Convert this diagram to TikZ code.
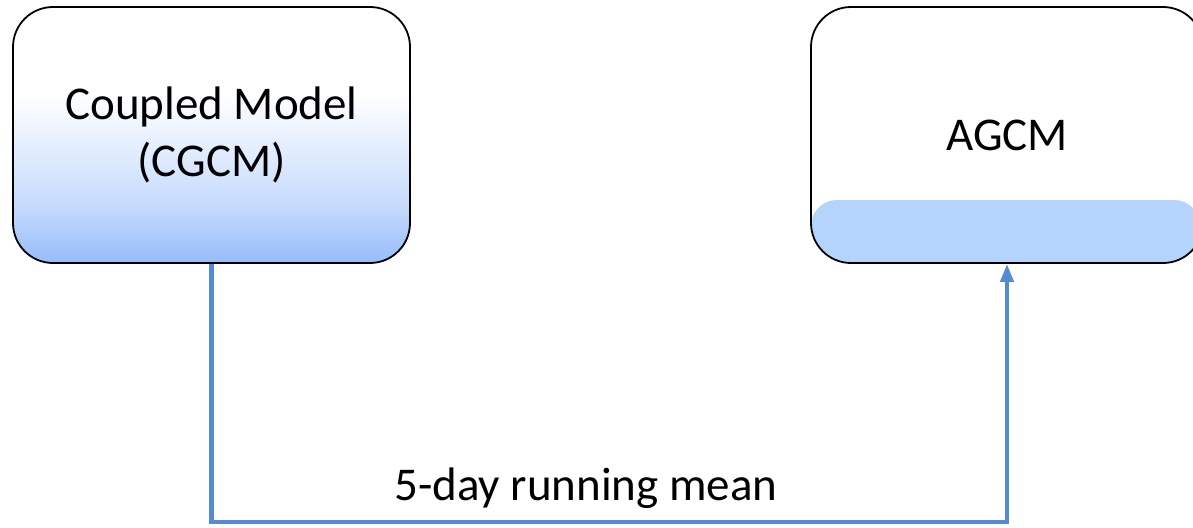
\documentclass[tikz,border=0pt]{standalone}
\usepackage{fontspec}
\setmainfont{Carlito}
\usetikzlibrary{arrows.meta}
\definecolor{connblue}{RGB}{84,140,212}
\definecolor{shadeblue}{RGB}{150,188,250}
\definecolor{bandblue}{RGB}{180,212,252}
\pgfdeclareverticalshading{cgcmshade}{100bp}{color(0bp)=(shadeblue); color(25bp)=(shadeblue); color(36bp)=(shadeblue!55!white); color(58bp)=(white); color(100bp)=(white)}
\tikzset{
  modelbox/.style={draw=black, line width=1.8pt, rounded corners=40pt, inner sep=0pt,
    align=center, font=\fontsize{47}{57}\selectfont},
  conn/.style={draw=connblue, line width=4.2pt},
  lbl/.style={font=\fontsize{47}{57}\selectfont, inner sep=0pt}
}
\begin{document}
\begin{tikzpicture}[x=1pt,y=-1pt]
\clip (0,0) rectangle (1193,527);
\fill[white] (0,0) rectangle (1193,527);
% left box
\node[modelbox, minimum width=397pt, minimum height=256pt, shading=cgcmshade]
  (cgcm) at (211.5,135) {Coupled Model\\(CGCM)};
% right box with band
\begin{scope}
  \clip[rounded corners=40pt] (811,7) rectangle (1203,263);
  \fill[bandblue, rounded corners=26pt] (811,200) rectangle (1200,300);
\end{scope}
\node[modelbox, minimum width=392pt, minimum height=256pt]
  (agcm) at (1007,135) {AGCM};
% connector
\draw[conn, -{Triangle[length=18pt,width=13pt]}]
  (cgcm.south) -- ++(0,258) coordinate (c1) -| (agcm.south);
\node[lbl, anchor=base] (lab) at (586,500) {5-day running mean};
\end{tikzpicture}
\end{document}
